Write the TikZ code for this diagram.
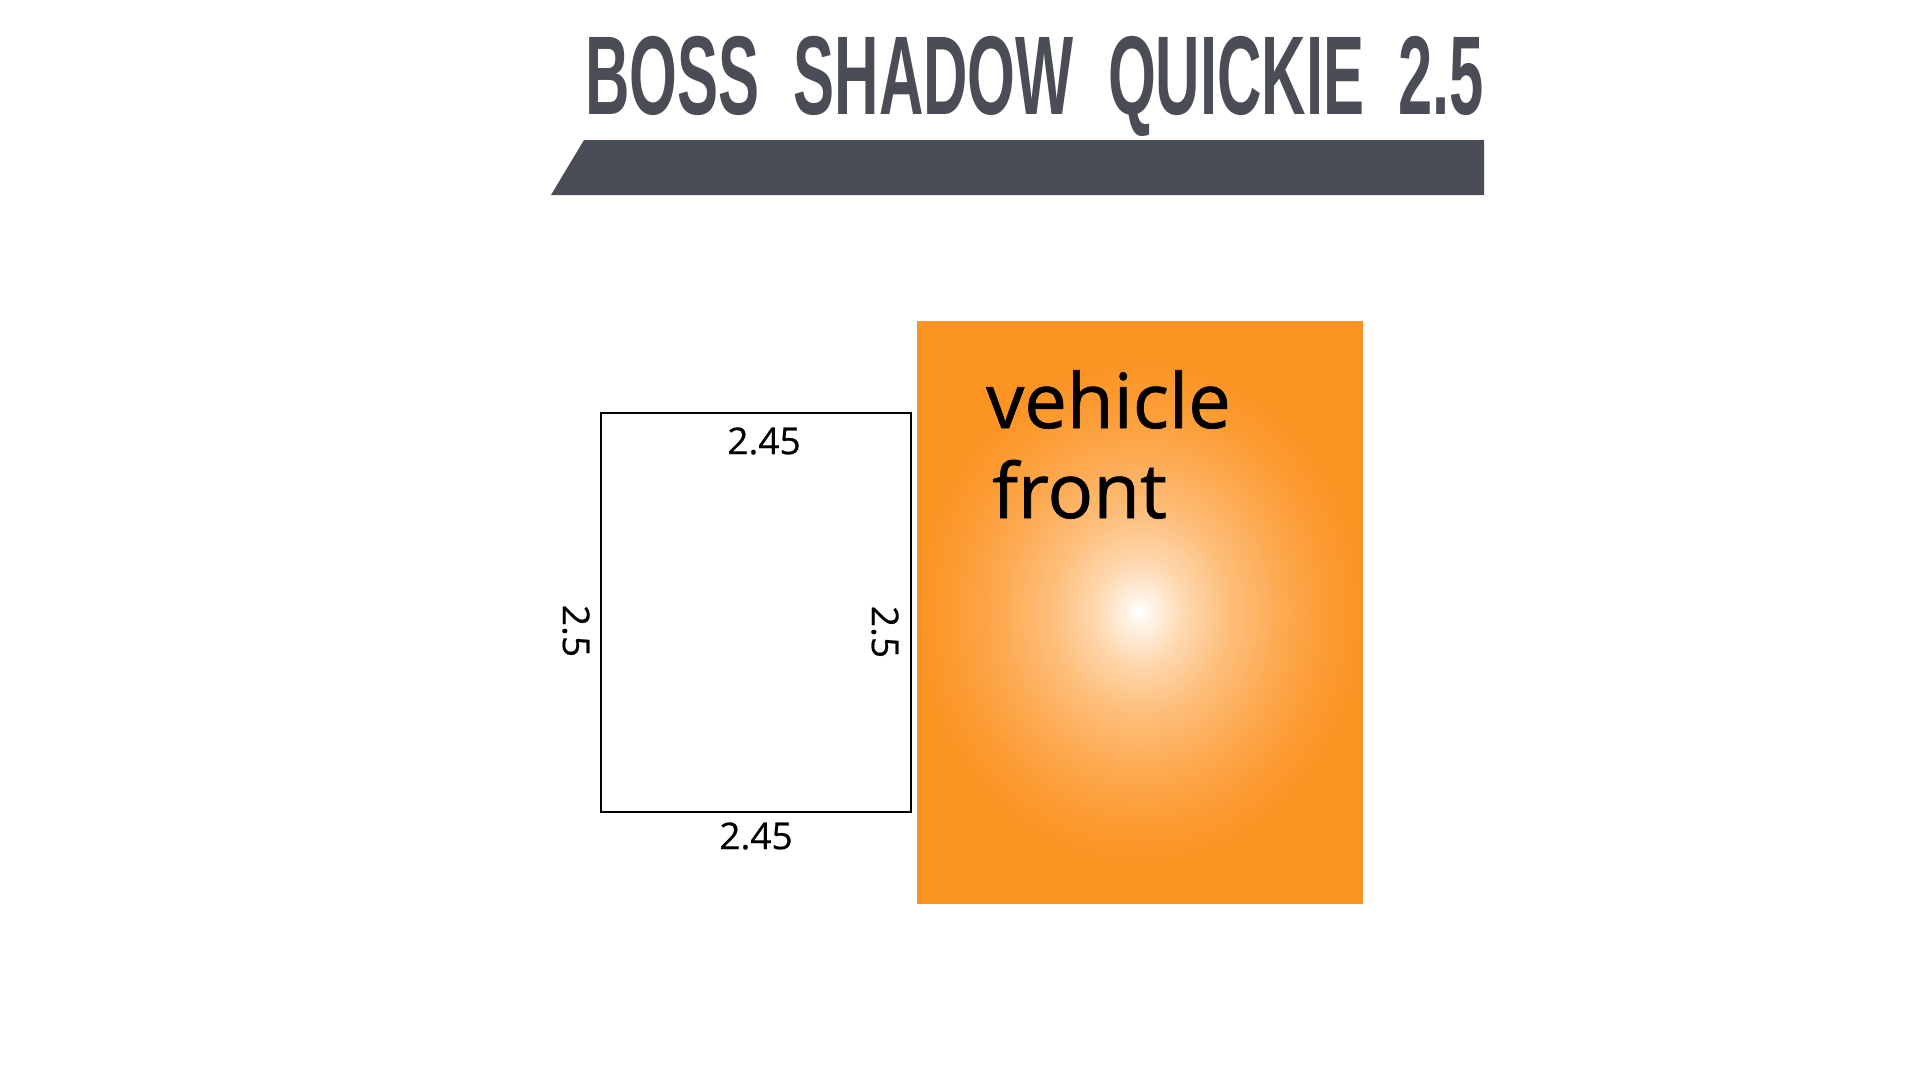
\documentclass[tikz,border=0pt]{standalone}
\usepackage{fontspec}
\setmainfont{Open Sans}
\newfontfamily\titlefont{Liberation Sans}
\newfontfamily\semifont{Open Sans}[FakeBold=0.9]
\newfontfamily\lblfont{Open Sans}[FakeBold=0.5]
\usetikzlibrary{shadings}
\definecolor{titlegray}{HTML}{4A4D55}
\definecolor{bargray}{HTML}{484C55}
\definecolor{orng}{HTML}{FC9424}
\pgfdeclareradialshading{glow}{\pgfpoint{0bp}{0bp}}{%
  color(0bp)=(white);
  color(1.5bp)=(orng!12!white);
  color(5bp)=(orng!36!white);
  color(10bp)=(orng!60!white);
  color(16bp)=(orng!80!white);
  color(21bp)=(orng!93!white);
  color(25bp)=(orng);
  color(50bp)=(orng)}
\tikzset{
  dimlabel/.style={font=\lblfont\fontsize{37}{40}\selectfont, text=black, inner sep=0pt},
  bigtext/.style={font=\semifont\fontsize{76}{80}\selectfont, text=black, inner sep=0pt, anchor=base west},
}
\begin{document}
\begin{tikzpicture}[x=1pt,y=-1pt]
\useasboundingbox[fill=white] (0,0) rectangle (1920,1080);
% title
\node[anchor=base west, inner sep=0pt, text=titlegray] (title) at (585,114)
  {\resizebox{899pt}{\height}{\titlefont\bfseries\fontsize{112}{112}\selectfont BOSS\ \ SHADOW\ \ QUICKIE\ \ 2.5}};
\fill[bargray] (584,140) -- (1484,140) -- (1484,195) -- (551,195) -- cycle;
% vehicle
\node[fill=orng, minimum width=446pt, minimum height=583pt, inner sep=0pt] (veh) at (1140,612.5) {};
\shade[shading=glow] (veh.center) ellipse [x radius=222pt, y radius=250pt];
\node[bigtext] (vtxt) at (986,428) {vehicle};
\node[bigtext] (ftxt) at (992,518) {front};
% awning
\node[draw=black, line width=2pt, minimum width=310pt, minimum height=399pt, inner sep=0pt] (aw) at (756,612.5) {};
\node[dimlabel] (top) at (764,441) {2.45};
\node[dimlabel] (bot) at (756,836) {2.45};
\node[dimlabel, rotate=-90] (left) at (576,631) {2.5};
\node[dimlabel, rotate=-90] (right) at (885,632) {2.5};
\end{tikzpicture}
\end{document}
